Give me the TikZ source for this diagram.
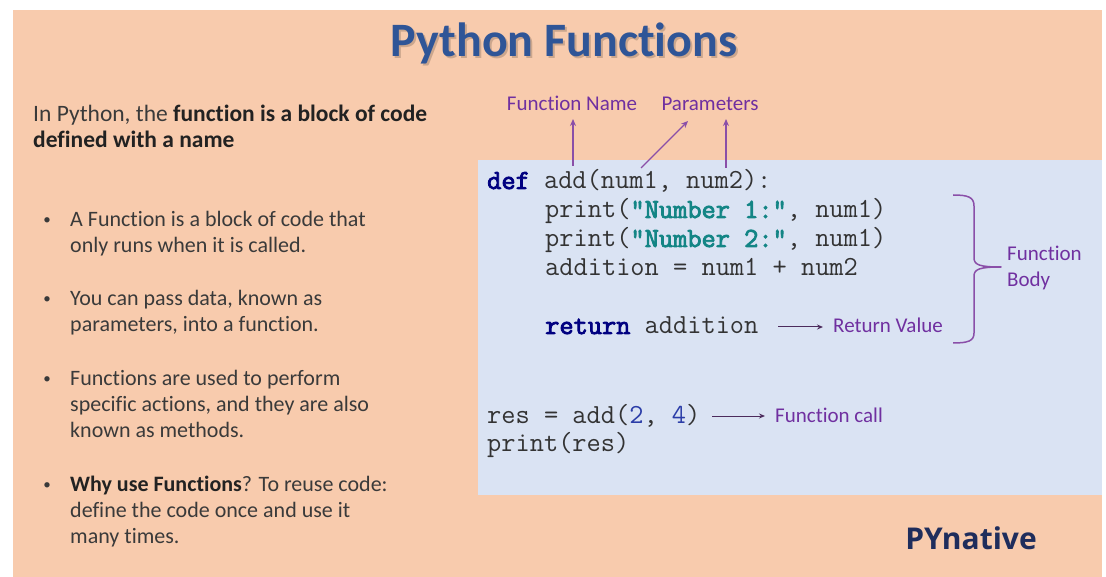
\documentclass[tikz,border=0pt]{standalone}
\usepackage{fontspec}
\setmainfont{Carlito}[Ligatures={NoCommon}]
\newfontfamily\codefont{Latin Modern Mono}[BoldFont={Latin Modern Mono},BoldFeatures={FakeBold=3}]
\newfontfamily\brandfont{Open Sans}
\usetikzlibrary{arrows.meta}
\definecolor{peach}{HTML}{F8CBAD}
\definecolor{codebg}{HTML}{DAE3F3}
\definecolor{titleblue}{HTML}{2F5597}
\definecolor{bodytext}{HTML}{3A3A3A}
\definecolor{boldtext}{HTML}{222222}
\definecolor{codetext}{HTML}{333333}
\definecolor{kwnavy}{HTML}{000080}
\definecolor{strteal}{HTML}{138585}
\definecolor{numblue}{HTML}{2B3DA8}
\definecolor{lblpurple}{HTML}{7030A0}
\definecolor{arrpurple}{HTML}{8A4FA8}
\definecolor{brandnavy}{HTML}{1F2D5C}
\tikzset{
  txt/.style={anchor=base west, inner sep=0pt, font=\fontsize{22}{26}\selectfont, text=bodytext},
  intro/.style={anchor=base west, inner sep=0pt, font=\fontsize{23.5}{26}\selectfont, text=bodytext},
  bul/.style={anchor=base, inner sep=0pt, font=\fontsize{15}{18}\selectfont, text=bodytext},
  code/.style={anchor=base west, inner sep=0pt, font=\codefont\fontsize{27.6}{29}\selectfont, text=codetext},
  lbl/.style={inner sep=0pt, font=\fontsize{21}{25}\selectfont, text=lblpurple},
  uparr/.style={draw=arrpurple, line width=1.3pt, -{Stealth[length=7pt,width=6pt]}},
  sidearr/.style={draw=arrpurple!55!black, line width=1pt, -{Stealth[length=6pt,width=5pt]}, shorten >=10pt},
  bracestyle/.style={draw=arrpurple, line width=1.5pt, line join=round},
}
\newcommand{\kw}[1]{\textcolor{kwnavy}{\bfseries #1}}
\newcommand{\str}[1]{\textcolor{strteal}{\bfseries #1}}
\newcommand{\numc}[1]{\textcolor{numblue}{#1}}
\begin{document}
\begin{tikzpicture}[x=1pt,y=-1pt]
\useasboundingbox (0,0) rectangle (1106,577);
\fill[white] (0,0) rectangle (1106,577);
\fill[peach] (13,10) rectangle (1102,577);
\fill[codebg] (478,160) rectangle (1102,495);

% title
\node[anchor=base, inner sep=0pt, font=\fontsize{48}{52}\selectfont\bfseries, text=black, opacity=0.18] at (566,59) {Python Functions};
\node (title) [anchor=base, inner sep=0pt, font=\fontsize{48}{52}\selectfont\bfseries, text=titleblue] at (564,57) {Python Functions};

% intro
\node (intro1) [intro] at (33,122) {In Python, the \textcolor{boldtext}{\bfseries function is a block of code}};
\node (intro2) [intro] at (33,148) {\textcolor{boldtext}{\bfseries defined with a name}};

% bullets
\node (d1) [bul] at (47,225) {•};
\node (b1a) [txt] at (70,227) {A Function is a block of code that};
\node (b1b) [txt] at (70,253) {only runs when it is called.};
\node (d2) [bul] at (47,304) {•};
\node (b2a) [txt] at (70,306) {You can pass data, known as};
\node (b2b) [txt] at (70,332) {parameters, into a function.};
\node (d3) [bul] at (47,383) {•};
\node (b3a) [txt] at (70,385) {Functions are used to perform};
\node (b3b) [txt] at (70,411) {specific actions, and they are also};
\node (b3c) [txt] at (70,437) {known as methods.};
\node (d4) [bul] at (47,489) {•};
\node (b4a) [txt] at (70,491) {\textcolor{boldtext}{\bfseries Why use Functions}? To reuse code:};
\node (b4b) [txt] at (70,517) {define the code once and use it};
\node (b4c) [txt] at (70,543) {many times.};

% code
\node (c1) [code] at (487,189) {\kw{def} add(num1, num2):};
\node (c2) [code] at (545,218) {print(\str{"Number 1:"}, num1)};
\node (c3) [code] at (545,247) {print(\str{"Number 2:"}, num1)};
\node (c4) [code] at (545,276) {addition = num1 + num2};
\node (c5) [code] at (545,334) {\kw{return} addition};
\node (c6) [code] at (487,423) {res = add(\numc{2}, \numc{4})};
\node (c7) [code] at (487,451) {print(res)};

% labels
\node (lname) [lbl, anchor=base] at (572,111) {Function Name};
\node (lparam) [lbl, anchor=base] at (710,111) {Parameters};
\node (lbody1) [lbl, anchor=base west] at (1007,261) {Function};
\node (lbody2) [lbl, anchor=base west] at (1007,287) {Body};
\node (lret) [lbl, anchor=base west] at (833,333) {Return Value};
\node (lcall) [lbl, anchor=base west] at (775,422) {Function call};

% arrow anchor points
\coordinate (srcname) at (573,166);
\coordinate (tipname) at (573,119);
\coordinate (srcp1) at (641,168);
\coordinate (tipp1) at (688,121);
\coordinate (srcp2) at (726,168);
\coordinate (tipp2) at (726,119);
\coordinate (srcret) at (778,327);
\coordinate (srccall) at (712,416);

\draw[uparr] (srcname) -- (tipname);
\draw[uparr] (srcp1) -- (tipp1);
\draw[uparr] (srcp2) -- (tipp2);
\draw[sidearr] (srcret) -- (lret.west |- srcret);
\draw[sidearr] (srccall) -- (lcall.west |- srccall);

% brace
\draw[bracestyle] (953,195) .. controls (968,195) and (974,197) .. (974,206)
  -- (974,258) .. controls (974,265) and (980,267) .. (1001,267)
  .. controls (980,267) and (974,269) .. (974,276)
  -- (974,333) .. controls (974,341) and (968,343) .. (953,343);

% brand
\node (brand) [anchor=base, inner sep=0pt, font=\brandfont\fontsize{30}{34}\selectfont\bfseries, text=brandnavy] at (971,549) {PYnative};
\end{tikzpicture}
\end{document}
